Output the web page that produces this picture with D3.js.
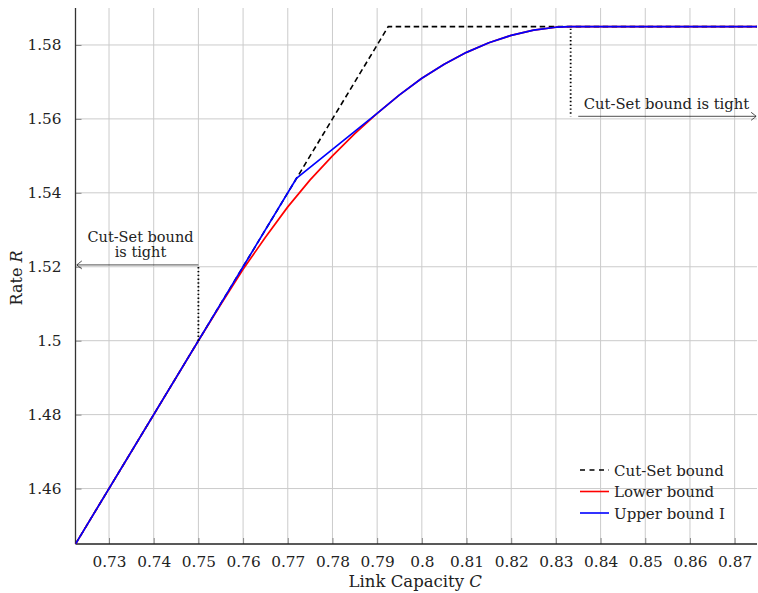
<!DOCTYPE html>
<html>
<head>
<meta charset="utf-8">
<script src="https://cdn.jsdelivr.net/npm/d3@7/dist/d3.min.js"></script>
<style>
  html, body { margin: 0; padding: 0; background: #fff; }
  svg { display: block; }
  svg text { font-family: "DejaVu Serif", "Liberation Serif", serif; fill: #222; }
</style>
</head>
<body>
<svg id="chart" width="758" height="593"></svg>
<script>
// ---- data ----
const xTicks = [0.73, 0.74, 0.75, 0.76, 0.77, 0.78, 0.79, 0.80, 0.81, 0.82, 0.83, 0.84, 0.85, 0.86, 0.87];
const xTickLabels = ["0.73","0.74","0.75","0.76","0.77","0.78","0.79","0.8","0.81","0.82","0.83","0.84","0.85","0.86","0.87"];
const yTicks = [1.46, 1.48, 1.50, 1.52, 1.54, 1.56, 1.58];
const yTickLabels = ["1.46","1.48","1.5","1.52","1.54","1.56","1.58"];

const cutSetC = [0.7225, 0.79248, 0.875];
const cutSetR = [1.445, 1.58496, 1.58496];

const lowerC = [0.7225, 0.75, 0.755, 0.76, 0.765, 0.77, 0.775, 0.78, 0.785, 0.79, 0.795, 0.80, 0.805, 0.81, 0.815, 0.82, 0.825, 0.83, 0.8333, 0.875];
const lowerR = [1.445, 1.5, 1.5098, 1.5193, 1.5280, 1.5362, 1.5435, 1.5500, 1.5560, 1.5615, 1.5665, 1.5710, 1.5748, 1.5780, 1.5806, 1.5826, 1.5840, 1.5848, 1.58496, 1.58496];

const upperC = [0.7225, 0.772, 0.79, 0.795, 0.80, 0.805, 0.81, 0.815, 0.82, 0.825, 0.83, 0.8333, 0.875];
const upperR = [1.445, 1.544, 1.5615, 1.5665, 1.5710, 1.5748, 1.5780, 1.5806, 1.5826, 1.5840, 1.5848, 1.58496, 1.58496];

const seriesNames = ["Cut-Set bound", "Lower bound", "Upper bound I"];
const seriesColors = ["#000000", "#ff0000", "#0000ff"];

// annotation values
const leftTightC = 0.75, leftTightR0 = 1.5, leftTightR1 = 1.5205;
const rightTightC = 0.8333, rightTightR0 = 1.58496, rightTightR1 = 1.5607;

// ---- layout ----
const FONT = "'DejaVu Serif', 'Liberation Serif', serif";
const svg = d3.select("#chart");
const L = 75.5, R = 757, T = 8, B = 544;
const x = d3.scaleLinear().domain([0.7225, 0.875]).range([L, R]);
const y = d3.scaleLinear().domain([1.445, 1.59]).range([B, T]);

const defs = svg.append("defs");
defs.append("clipPath").attr("id", "clip")
  .append("rect").attr("x", L).attr("y", T).attr("width", R - L).attr("height", B - T);
const m = defs.append("marker").attr("id", "arrow")
  .attr("viewBox", "-6 -5 8 10").attr("refX", 0).attr("refY", 0)
  .attr("markerWidth", 8).attr("markerHeight", 10).attr("markerUnits", "userSpaceOnUse")
  .attr("orient", "auto");
m.append("path").attr("d", "M-5,-4 Q-1,-1 0,0 Q-1,1 -5,4")
  .attr("fill", "none").attr("stroke", "#222").attr("stroke-width", 0.8);

// grid
const grid = svg.append("g");
grid.selectAll("line.gx").data(xTicks).join("line")
  .attr("x1", d => x(d)).attr("x2", d => x(d)).attr("y1", T).attr("y2", B)
  .attr("stroke", "#cbcbcb").attr("stroke-width", 1);
grid.selectAll("line.gy").data(yTicks).join("line")
  .attr("x1", L).attr("x2", R).attr("y1", d => y(d)).attr("y2", d => y(d))
  .attr("stroke", "#cbcbcb").attr("stroke-width", 1);

// axes (ticks inside)
const xAxis = d3.axisBottom(x).tickValues(xTicks).tickFormat((d, i) => xTickLabels[i]).tickSizeInner(-6).tickSizeOuter(0).tickPadding(12);
const yAxis = d3.axisLeft(y).tickValues(yTicks).tickFormat((d, i) => yTickLabels[i]).tickSizeInner(-6).tickSizeOuter(0).tickPadding(14);

const gx = svg.append("g").attr("transform", `translate(0,${B})`).call(xAxis);
const gy = svg.append("g").attr("transform", `translate(${L},0)`).call(yAxis);
[gx, gy].forEach(g => {
  g.attr("font-family", null).attr("font-size", null);
  g.select(".domain").remove();
  g.selectAll(".tick line").attr("stroke", "#888").attr("stroke-width", 1);
  g.selectAll(".tick text").style("font-family", FONT).style("font-size", "15.3px").attr("fill", "#222");
});
gx.selectAll(".tick text").attr("dy", "0.71em");
// axis lines
svg.append("line").attr("x1", L).attr("x2", L).attr("y1", T).attr("y2", B).attr("stroke", "#333").attr("stroke-width", 1.3);
svg.append("line").attr("x1", L).attr("x2", R).attr("y1", B).attr("y2", B).attr("stroke", "#222").attr("stroke-width", 1.3);

// axis titles
const xt = svg.append("text").attr("x", (L + R) / 2 - 1).attr("y", 587).attr("text-anchor", "middle").style("font-size", "16.5px").style("font-family", FONT);
xt.append("tspan").text("Link Capacity ");
xt.append("tspan").style("font-style", "italic").text("C");
const yt = svg.append("text").attr("transform", `translate(22,${(T + B) / 2 + 2}) rotate(-90)`).attr("text-anchor", "middle").style("font-size", "16px").style("font-family", FONT);
yt.append("tspan").text("Rate ");
yt.append("tspan").style("font-style", "italic").text("R");

// series
const plot = svg.append("g").attr("clip-path", "url(#clip)");
const line = d3.line().x(d => x(d[0])).y(d => y(d[1]));
const zip = (a, b) => a.map((v, i) => [v, b[i]]);

plot.append("path").datum(zip(cutSetC, cutSetR)).attr("d", line)
  .attr("fill", "none").attr("stroke", seriesColors[0]).attr("stroke-width", 1.6).attr("stroke-dasharray", "5.5,3.5");
plot.append("path").datum(zip(lowerC, lowerR)).attr("d", line)
  .attr("fill", "none").attr("stroke", seriesColors[1]).attr("stroke-width", 1.7).attr("stroke-linejoin", "round");
plot.append("path").datum(zip(upperC, upperR)).attr("d", line)
  .attr("fill", "none").attr("stroke", seriesColors[2]).attr("stroke-width", 1.7).attr("stroke-linejoin", "round");

// annotations
const ann = svg.append("g").style("font-family", FONT);
ann.append("line").attr("x1", x(leftTightC)).attr("x2", x(leftTightC)).attr("y1", y(leftTightR0)).attr("y2", y(leftTightR1))
  .attr("stroke", "#000").attr("stroke-width", 1.8).attr("stroke-dasharray", "1.4,2.4");
ann.append("line").attr("x1", x(leftTightC)).attr("x2", x(0.7228)).attr("y1", y(leftTightR1)).attr("y2", y(leftTightR1))
  .attr("stroke", "#222").attr("stroke-width", 0.8).attr("marker-end", "url(#arrow)");
ann.append("text").attr("x", 140.5).attr("y", 242).attr("text-anchor", "middle").style("font-size", "14.5px").text("Cut-Set bound");
ann.append("text").attr("x", 140.5).attr("y", 257).attr("text-anchor", "middle").style("font-size", "14.5px").text("is tight");

ann.append("line").attr("x1", x(rightTightC)).attr("x2", x(rightTightC)).attr("y1", y(rightTightR0) + 2).attr("y2", y(rightTightR1))
  .attr("stroke", "#000").attr("stroke-width", 1.8).attr("stroke-dasharray", "1.4,2.4");
ann.append("line").attr("x1", x(0.835)).attr("x2", x(0.8748)).attr("y1", y(rightTightR1)).attr("y2", y(rightTightR1))
  .attr("stroke", "#222").attr("stroke-width", 0.8).attr("marker-end", "url(#arrow)");
ann.append("text").attr("x", 666.5).attr("y", 109).attr("text-anchor", "middle").style("font-size", "14.8px").text("Cut-Set bound is tight");

// legend
const lg = svg.append("g").attr("transform", "translate(580,470)").style("font-family", FONT);
seriesNames.forEach((name, i) => {
  const row = lg.append("g").attr("transform", `translate(0,${i * 21.5})`);
  row.append("line").attr("x1", 0).attr("x2", 29).attr("y1", 0).attr("y2", 0)
    .attr("stroke", seriesColors[i]).attr("stroke-width", 1.6)
    .attr("stroke-dasharray", i === 0 ? "5,4.5" : null);
  row.append("text").attr("x", 34).attr("y", 5.5).style("font-size", "15px").text(name);
});
</script>
</body>
</html>
